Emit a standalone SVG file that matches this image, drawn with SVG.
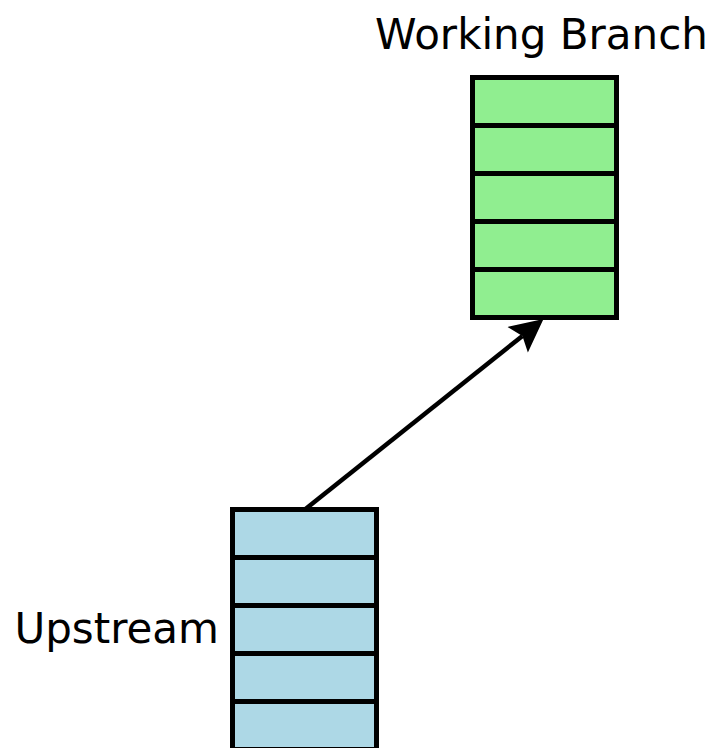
<svg xmlns="http://www.w3.org/2000/svg" width="723" height="748" viewBox="0 0 723 748">
  <style>
    .cell { stroke: #000; stroke-width: 5; }
    .branch .cell { fill: #90ee90; }
    .upstream .cell { fill: #add8e6; }
    .label { font-family: "DejaVu Sans", sans-serif; font-size: 42px; fill: #000; }
    .link { stroke: #000; stroke-width: 4.5; fill: none; }
  </style>
  <defs>
    <marker id="head" markerUnits="userSpaceOnUse" markerWidth="40" markerHeight="40" viewBox="-10 -20 40 40" refX="0" refY="0" orient="auto" overflow="visible">
      <path d="M27,0 L-6,-16.3 L0,0 L-6,16.3 Z" fill="#000"/>
    </marker>
  </defs>

  <!-- commit stack of the working branch -->
  <g id="working-branch" class="branch">
    <rect class="cell" x="472.5" y="77.5" width="144" height="48"/>
    <rect class="cell" x="472.5" y="125.5" width="144" height="48"/>
    <rect class="cell" x="472.5" y="173.5" width="144" height="48"/>
    <rect class="cell" x="472.5" y="221.5" width="144" height="48"/>
    <rect class="cell" x="472.5" y="269.5" width="144" height="48"/>
    <text class="label" x="541.5" y="49" text-anchor="middle">Working Branch</text>
  </g>

  <!-- commit stack of upstream -->
  <g id="upstream" class="upstream">
    <rect class="cell" x="232.5" y="509.5" width="144" height="48"/>
    <rect class="cell" x="232.5" y="557.5" width="144" height="48"/>
    <rect class="cell" x="232.5" y="605.5" width="144" height="48"/>
    <rect class="cell" x="232.5" y="653.5" width="144" height="48"/>
    <rect class="cell" x="232.5" y="701.5" width="144" height="48"/>
    <text class="label" x="219" y="643" text-anchor="end">Upstream</text>
  </g>

  <!-- connectors -->
  <g id="connectors">
    <line class="link" x1="305.5" y1="509" x2="522.4" y2="335.9" marker-end="url(#head)"/>
  </g>
</svg>
